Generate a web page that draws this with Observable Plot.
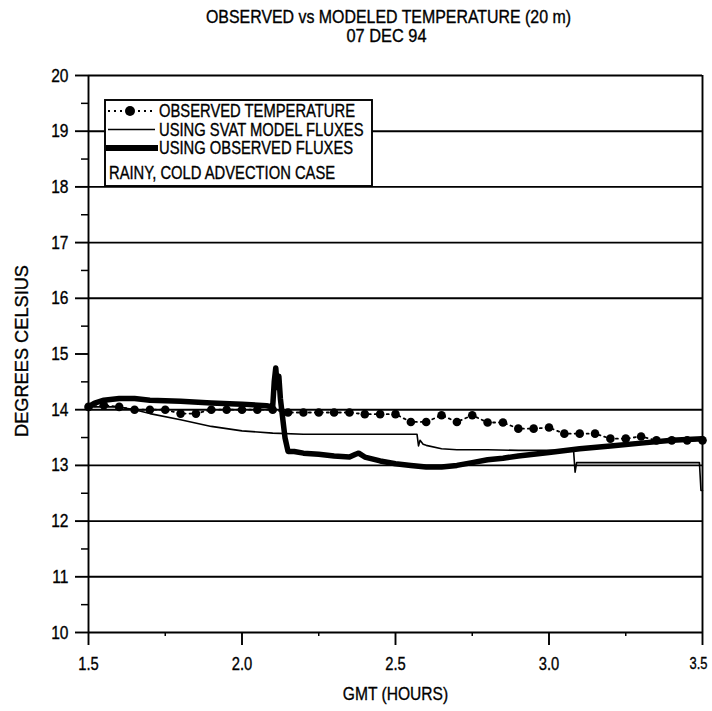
<!DOCTYPE html>
<html>
<head>
<meta charset="utf-8">
<script src="https://cdn.jsdelivr.net/npm/d3@7"></script>
<script src="https://cdn.jsdelivr.net/npm/@observablehq/plot@0.6"></script>
<style>
  html, body { margin: 0; padding: 0; background: white; }
  #wrap { position: relative; width: 712px; height: 711px; }
  #legend { position: absolute; left: 0; top: 0; pointer-events: none; }
  #wrap text { stroke: black; stroke-width: 0.35px; }
</style>
</head>
<body>
<div id="wrap"></div>
<script>
// ---- data ----
const titleText = "OBSERVED vs MODELED TEMPERATURE (20 m)";
const subtitleText = "07 DEC 94";
const xLabel = "GMT (HOURS)";
const yLabel = "DEGREES CELSIUS";
const seriesNames = ["OBSERVED TEMPERATURE", "USING SVAT MODEL FLUXES", "USING OBSERVED FLUXES"];
const noteText = "RAINY, COLD ADVECTION CASE";

const yMajor = [10, 11, 12, 13, 14, 15, 16, 17, 18, 19, 20];
const yGrid = [10, 11, 12, 13, 14, 16, 17, 18, 19, 20];
const yMinor = [10.5, 11.5, 12.5, 13.5, 14.5, 15.5, 16.5, 17.5, 18.5, 19.5];
const xMajor = [1.5, 2.0, 2.5, 3.0, 3.5];
const xMinor = [1.75, 2.25, 2.75, 3.25];

const obsHours = [1.50,1.55,1.60,1.65,1.70,1.75,1.80,1.85,1.90,1.95,2.00,2.05,2.10,2.15,2.20,2.25,2.30,2.35,2.40,2.45,2.50,2.55,2.60,2.65,2.70,2.75,2.80,2.85,2.90,2.95,3.00,3.05,3.10,3.15,3.20,3.25,3.30,3.35,3.40,3.45,3.50];
const obsTemp  = [14.05,14.08,14.05,14.00,14.00,14.00,13.93,13.93,14.00,14.00,14.00,14.00,14.00,13.95,13.95,13.95,13.95,13.95,13.92,13.92,13.92,13.78,13.78,13.90,13.78,13.90,13.77,13.77,13.66,13.66,13.68,13.57,13.57,13.57,13.48,13.48,13.52,13.45,13.45,13.45,13.45];

const svatHours = [1.50,1.60,1.65,1.70,1.80,1.90,2.00,2.10,2.20,2.30,2.40,2.50,2.570,2.575,2.580,2.590,2.60,2.65,2.70,2.80,2.90,3.00,3.080,3.085,3.090,3.20,3.30,3.40,3.490,3.495,3.50];
const svatTemp  = [14.05,14.05,14.00,13.93,13.82,13.70,13.62,13.58,13.56,13.56,13.56,13.56,13.56,13.35,13.45,13.38,13.36,13.30,13.28,13.28,13.27,13.27,13.27,12.88,13.05,13.05,13.05,13.05,13.05,12.55,12.55];

const fluxHours = [1.50,1.52,1.55,1.60,1.65,1.70,1.80,1.90,2.00,2.08,2.100,2.105,2.110,2.115,2.120,2.125,2.140,2.150,2.17,2.20,2.25,2.30,2.35,2.37,2.38,2.40,2.45,2.50,2.55,2.60,2.65,2.70,2.75,2.80,2.85,2.90,3.00,3.10,3.20,3.30,3.40,3.50];
const fluxTemp  = [14.05,14.12,14.17,14.20,14.20,14.17,14.15,14.12,14.10,14.07,14.05,14.50,14.75,14.40,14.60,14.20,13.50,13.25,13.25,13.22,13.20,13.17,13.15,13.20,13.22,13.15,13.08,13.03,13.00,12.97,12.97,13.00,13.05,13.10,13.13,13.17,13.23,13.30,13.35,13.40,13.45,13.48];

const obs = obsHours.map((h, i) => ({h, t: obsTemp[i]}));
const svat = svatHours.map((h, i) => ({h, t: svatTemp[i]}));
const flux = fluxHours.map((h, i) => ({h, t: fluxTemp[i]}));

const font = '"Liberation Sans", Arial, sans-serif';
const NARROW = 0.82;

const chart = Plot.plot({
  width: 712, height: 711,
  marginTop: 75, marginLeft: 88, marginRight: 10, marginBottom: 79,
  x: {domain: [1.5, 3.5]},
  y: {domain: [10, 20]},
  style: {fontFamily: font, fontSize: "19px", color: "black", background: "white", overflow: "visible"},
  marks: [
    Plot.ruleY(yGrid, {stroke: "black", strokeWidth: 1.9}),
    Plot.ruleX([1.5], {stroke: "black", strokeWidth: 1.9}),
    Plot.ruleX([3.5], {stroke: "black", strokeWidth: 1.9}),
    Plot.axisY(yMajor, {tickSize: 13, tickPadding: 7, strokeWidth: 1.9, tickFormat: d => String(d), label: null, fontSize: 19}),
    Plot.axisY(yMinor, {tickSize: 7, strokeWidth: 1.5, tickFormat: () => "", label: null}),
    Plot.axisX(xMajor, {tickSize: 13, tickPadding: 12, strokeWidth: 1.9, tickFormat: d => d.toFixed(1), label: null, fontSize: 18}),
    Plot.axisX(xMinor, {tickSize: 4, strokeWidth: 1.5, tickFormat: () => "", label: null}),
    Plot.line(svat, {x: "h", y: "t", stroke: "black", strokeWidth: 1.6}),
    Plot.line(flux, {x: "h", y: "t", stroke: "black", strokeWidth: 5.5, strokeLinejoin: "round"}),
    Plot.line(obs, {x: "h", y: "t", stroke: "black", strokeWidth: 1.8, strokeDasharray: "2,4"}),
    Plot.dot(obs, {x: "h", y: "t", r: 4.3, fill: "black", stroke: "none"}),
    Plot.text([titleText], {frameAnchor: "top", dx: -7, dy: -58, lineAnchor: "middle", fontSize: 18}),
    Plot.text([subtitleText], {frameAnchor: "top", dx: -9, dy: -39, lineAnchor: "middle", fontSize: 18}),
    Plot.text([xLabel], {frameAnchor: "bottom", dy: 61, lineAnchor: "middle", fontSize: 19}),
    Plot.text([yLabel], {frameAnchor: "left", dx: -67, dy: -3, rotate: -90, textAnchor: "middle", lineAnchor: "middle", fontSize: 19})
  ]
});

const wrap = document.getElementById("wrap");
wrap.appendChild(chart);

// legend overlay (positions only; content from the arrays above)
const lg = d3.select(wrap).append("svg").attr("id", "legend").attr("width", 712).attr("height", 711)
  .style("font-family", font).style("font-size", "18px");
lg.append("rect").attr("x", 105).attr("y", 100).attr("width", 267).attr("height", 86)
  .attr("fill", "white").attr("stroke", "black").attr("stroke-width", 1.9);
const rowY = [111, 129.5, 148];
lg.append("line").attr("x1", 108).attr("x2", 155).attr("y1", rowY[0]).attr("y2", rowY[0])
  .attr("stroke", "black").attr("stroke-width", 2).attr("stroke-dasharray", "2,4");
lg.append("circle").attr("cx", 130).attr("cy", rowY[0]).attr("r", 5).attr("fill", "black");
lg.append("line").attr("x1", 108).attr("x2", 155).attr("y1", rowY[1]).attr("y2", rowY[1])
  .attr("stroke", "black").attr("stroke-width", 1.6);
lg.append("line").attr("x1", 106).attr("x2", 158).attr("y1", rowY[2]).attr("y2", rowY[2])
  .attr("stroke", "black").attr("stroke-width", 6);
seriesNames.forEach((name, i) => {
  lg.append("text").attr("x", 159).attr("y", rowY[i]).attr("dy", "0.35em").text(name);
});
lg.append("text").attr("x", 109).attr("y", 173).attr("dy", "0.35em").text(noteText);

// condense text horizontally (narrow typeface look)
const explicit = new Map([[titleText, 365], [subtitleText, 80], ["3.5", 18], [yLabel, 172]]);
for (const t of wrap.querySelectorAll("text")) {
  const s = t.textContent;
  if (!s) continue;
  if (s === "3.5") { t.setAttribute("font-size", "16"); t.setAttribute("dx", "-4"); }
  const len = t.getComputedTextLength();
  if (!len) continue;
  const target = explicit.has(s) ? explicit.get(s) : len * NARROW;
  t.setAttribute("textLength", target.toFixed(1));
  t.setAttribute("lengthAdjust", "spacingAndGlyphs");
}
</script>
</body>
</html>
